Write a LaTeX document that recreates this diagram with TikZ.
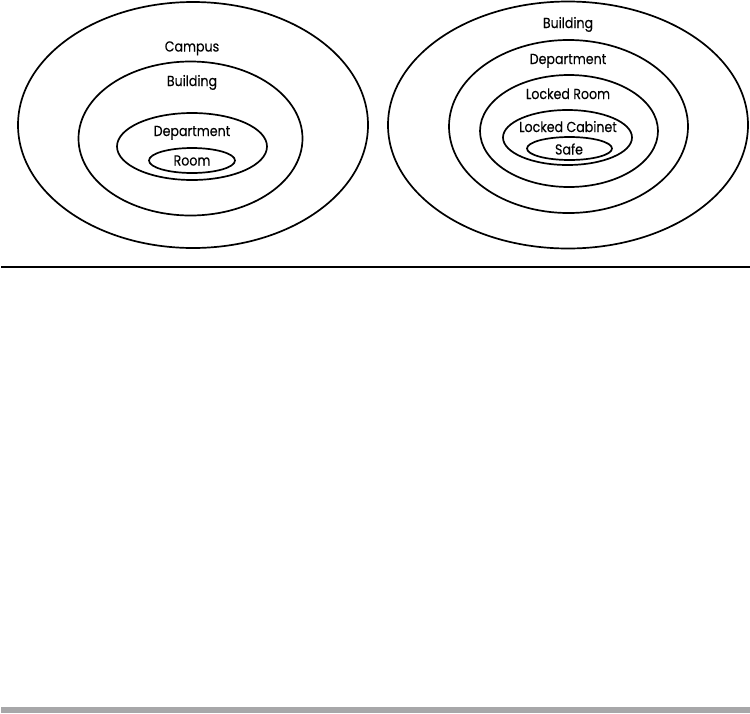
\documentclass[tikz,border=0pt]{standalone}
\usepackage{fontspec}
\setmainfont{Poppins}
\newfontfamily\ringfont{Poppins}[FakeStretch=0.87,FakeBold=0.2]
\begin{document}
\begin{tikzpicture}[x=1pt,y=-1pt,
  ring/.style={draw=black,line width=1.7pt},
  lbl/.style={inner sep=0pt,anchor=base,font=\ringfont\fontsize{14.5}{16}\selectfont}]
\useasboundingbox (0,0) rectangle (750,713);
% left set: campus hierarchy
\draw[ring] (193,125) ellipse [x radius=175,y radius=123];
\draw[ring] (190.5,138.5) ellipse [x radius=112,y radius=77];
\draw[ring] (192,146.5) ellipse [x radius=75,y radius=33.5];
\draw[ring] (192,160.5) ellipse [x radius=43,y radius=12.5];
\node[lbl] (campus) at (192,51.5) {Campus};
\node[lbl] (lbuilding) at (192,86) {Building};
\node[lbl] (ldept) at (192,136) {Department};
\node[lbl] (room) at (192,165.5) {Room};
% right set: building hierarchy
\draw[ring] (568,125) ellipse [x radius=180,y radius=123.5];
\draw[ring] (568.5,126.5) ellipse [x radius=119.5,y radius=86.5];
\draw[ring] (569,131) ellipse [x radius=89,y radius=56];
\draw[ring] (567.5,137.5) ellipse [x radius=64.5,y radius=27.5];
\draw[ring] (569.5,148.5) ellipse [x radius=42.5,y radius=11.5];
\node[lbl] (rbuilding) at (568,28) {Building};
\node[lbl] (rdept) at (568,64) {Department};
\node[lbl] (lroom) at (568,99) {Locked Room};
\node[lbl] (lcab) at (568,132) {Locked Cabinet};
\node[lbl] (safe) at (569,154.5) {Safe};
% rules
\coordinate (ruleL) at (1,267);
\coordinate (ruleR) at (750,267);
\draw[line width=2.2pt] (ruleL) -- (ruleR);
\definecolor{bargray}{HTML}{A7A7A9}
\fill[bargray] (1,707) rectangle (750,713);
\end{tikzpicture}
\end{document}
